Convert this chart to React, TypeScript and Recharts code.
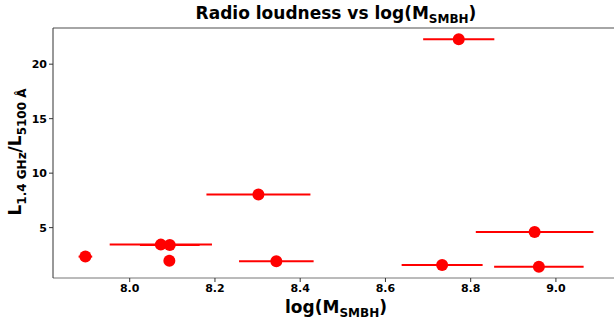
import { ScatterChart, Scatter, XAxis, YAxis, ErrorBar, ReferenceLine } from 'recharts';

// log(M_SMBH) of each source, its error, and the radio loudness
const logMass = [7.896, 8.073, 8.094, 8.093, 8.344, 8.302, 8.772, 8.950, 8.733, 8.960];
const logMassErr = [0.016, 0.12, 0.07, 0.008, 0.0875, 0.122, 0.0835, 0.138, 0.095, 0.105];
const radioLoudness = [2.34, 3.44, 3.40, 1.97, 1.91, 8.03, 22.28, 4.60, 1.57, 1.42];

const xTicks = [8.0, 8.2, 8.4, 8.6, 8.8, 9.0];
const yTicks = [5, 10, 15, 20];

const xDomain = [7.82, 9.148];
const yDomain = [0.377, 23.32];

const points = logMass.map((x, i) => ({ x, y: radioLoudness[i], xerr: logMassErr[i] }));

const FONT = '"DejaVu Sans", sans-serif';

const Dot = (props: any) => <circle cx={props.cx} cy={props.cy} r={6} fill="#ff0000" />;

export default function App() {
    return (
        <div style={{ position: 'fixed', left: 0, top: 0, width: 614, height: 323, overflow: 'hidden', background: '#fff', fontFamily: FONT }}>
            <ScatterChart width={620} height={323} margin={{ top: 28, right: 1, bottom: 0, left: 0 }}>
                <XAxis
                    type="number"
                    dataKey="x"
                    domain={xDomain}
                    ticks={xTicks}
                    allowDataOverflow
                    height={45}
                    tickSize={4}
                    tickFormatter={(v: number) => v.toFixed(1)}
                    stroke="#777"
                    tick={{ fill: '#000', fontSize: 11, fontWeight: 700, fontFamily: FONT }}
                    tickLine={{ stroke: '#333' }}
                />
                <YAxis
                    type="number"
                    dataKey="y"
                    domain={yDomain}
                    ticks={yTicks}
                    allowDataOverflow
                    width={53}
                    tickSize={4}
                    stroke="#333"
                    tick={{ fill: '#000', fontSize: 11, fontWeight: 700, fontFamily: FONT }}
                />
                <ReferenceLine y={yDomain[1]} stroke="#888" strokeWidth={1.5} />
                <Scatter data={points} shape={<Dot />} isAnimationActive={false}>
                    <ErrorBar dataKey="xerr" direction="x" width={0} stroke="#ff0000" strokeWidth={2} />
                </Scatter>
            </ScatterChart>

            <div style={{ position: 'absolute', left: 336, top: 3, transform: 'translateX(-50%)', fontSize: 17, fontWeight: 700, whiteSpace: 'nowrap' }}>
                Radio loudness vs log(M<sub style={{ fontSize: 12 }}>SMBH</sub>)
            </div>

            <div style={{ position: 'absolute', left: 336, top: 297, transform: 'translateX(-50%)', fontSize: 17, fontWeight: 700, whiteSpace: 'nowrap' }}>
                log(M<sub style={{ fontSize: 12 }}>SMBH</sub>)
            </div>

            <div style={{ position: 'absolute', left: 17, top: 152, transform: 'translate(-50%, -50%) rotate(-90deg)', fontSize: 17, fontWeight: 700, whiteSpace: 'nowrap' }}>
                L<sub style={{ fontSize: 12 }}>1.4 GHz</sub>/L<sub style={{ fontSize: 12 }}>5100 Å</sub>
            </div>
        </div>
    );
}
